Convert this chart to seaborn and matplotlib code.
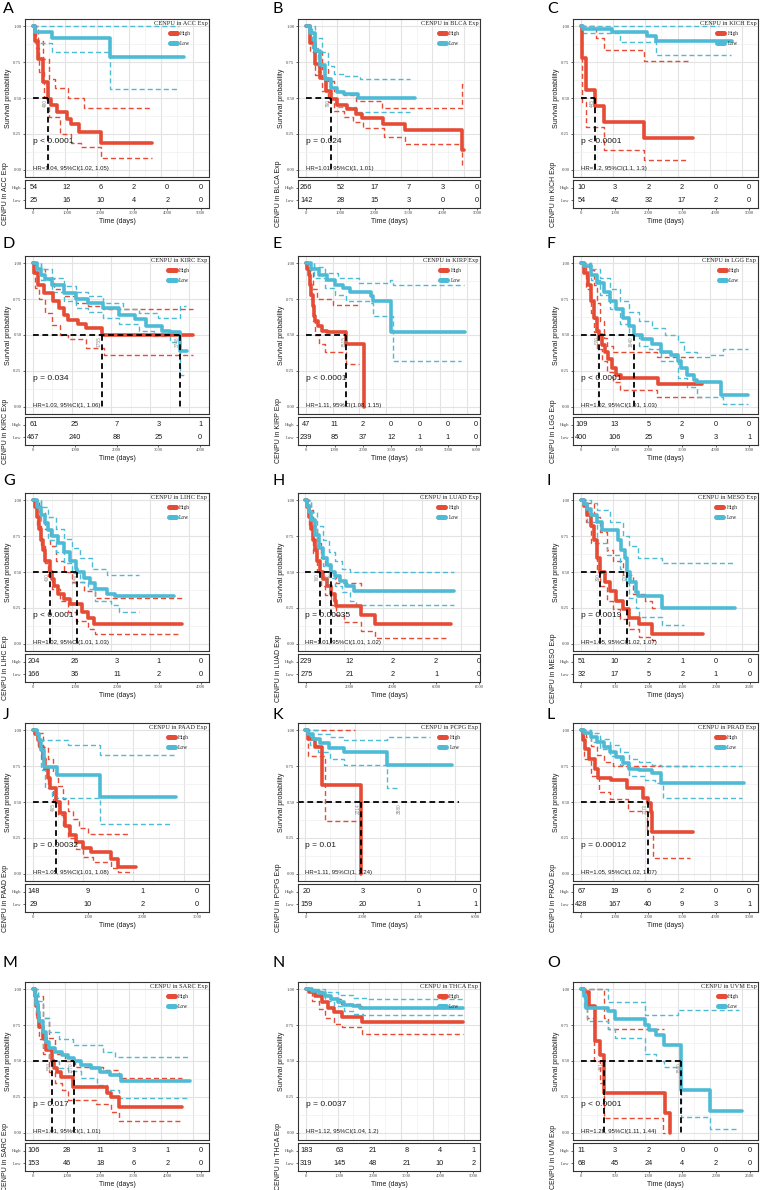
import matplotlib
matplotlib.use("Agg")
import matplotlib.pyplot as plt
from matplotlib.lines import Line2D
import seaborn as sns

# ── colours / fonts ───────────────────────────────────────────────────────────
RED  = "#E64B35"
BLUE = "#4DBBD5"
SANS  = ["Liberation Sans", "DejaVu Sans"]
SERIF = ["Liberation Serif", "DejaVu Serif"]

# ── panel info ────────────────────────────────────────────────────────────────
CANCERS = ["ACC", "BLCA", "KICH", "KIRC", "KIRP", "LGG", "LIHC", "LUAD",
           "MESO", "PAAD", "PCPG", "PRAD", "SARC", "THCA", "UVM"]
LETTERS = list("ABCDEFGHIJKLMNO")
P_TEXT = ["p < 0.0001", "p = 0.024", "p < 0.0001", "p = 0.034", "p < 0.0001",
          "p < 0.0001", "p < 0.0001", "p = 0.00035", "p = 0.0019", "p = 0.00032",
          "p = 0.01", "p = 0.00012", "p = 0.017", "p = 0.0037", "p < 0.0001"]
HR_TEXT = ["HR=1.04, 95%CI(1.02, 1.05)", "HR=1.01, 95%CI(1, 1.01)",
           "HR=1.2, 95%CI(1.1, 1.3)", "HR=1.03, 95%CI(1, 1.06)",
           "HR=1.11, 95%CI(1.08, 1.15)", "HR=1.02, 95%CI(1.01, 1.03)",
           "HR=1.02, 95%CI(1.01, 1.03)", "HR=1.01, 95%CI(1.01, 1.02)",
           "HR=1.05, 95%CI(1.02, 1.07)", "HR=1.05, 95%CI(1.01, 1.08)",
           "HR=1.11, 95%CI(1, 1.24)", "HR=1.05, 95%CI(1.02, 1.07)",
           "HR=1.01, 95%CI(1, 1.01)", "HR=1.12, 95%CI(1.04, 1.2)",
           "HR=1.28, 95%CI(1.11, 1.44)"]
X_RANGE   = [5000, 4850, 5015, 4013, 5843, 5015, 4000, 7650, 2500, 3065, 5880, 5015, 5000, 4950, 2500]
TICK_STEP = [1000, 1000, 1000, 1000, 1000, 1000, 1000, 2000, 500, 1000, 2000, 1000, 1000, 1000, 500]

# ── numbers at risk ───────────────────────────────────────────────────────────
RISK_HIGH = [[54, 12, 6, 2, 0, 0], [266, 52, 17, 7, 3, 0], [10, 3, 2, 2, 0, 0],
             [61, 25, 7, 3, 1], [47, 11, 2, 0, 0, 0, 0], [109, 13, 5, 2, 0, 0],
             [204, 26, 3, 1, 0], [229, 12, 2, 2, 0], [51, 10, 2, 1, 0, 0],
             [148, 9, 1, 0], [20, 3, 0, 0], [67, 19, 6, 2, 0, 0],
             [106, 28, 11, 3, 1, 0], [183, 63, 21, 8, 4, 1], [11, 3, 2, 0, 0, 0]]
RISK_LOW = [[25, 16, 10, 4, 2, 0], [142, 28, 15, 3, 0, 0], [54, 42, 32, 17, 2, 0],
            [467, 240, 88, 25, 0], [239, 85, 37, 12, 1, 1, 0], [400, 106, 25, 9, 3, 1],
            [166, 36, 11, 2, 0], [275, 21, 2, 1, 0], [32, 17, 5, 2, 1, 0],
            [29, 10, 2, 0], [159, 20, 1, 1], [428, 167, 40, 9, 3, 1],
            [153, 46, 18, 6, 2, 0], [319, 145, 48, 21, 10, 2], [68, 45, 24, 4, 2, 0]]

# ── median survival times (days) ──────────────────────────────────────────────
MEDIANS = [[480], [790], [445], [1755, 3748], [1515], [570, 1640], [430, 1140],
           [760, 1300], [300, 720], [465], [2214], [2070], [580, 1270], [], [361, 1560]]
EXTRA_MEDIAN_LABELS = {"PCPG": [3880]}
HLINE_FULL = ["PCPG"]

# ── Kaplan-Meier curves (time, survival) and 95% CI bounds ────────────────────
ACC_HIGH    = [(0, 1), (60, .9), (150, .77), (300, .61), (480, .49), (550, .45), (750, .40), (1050, .355), (1200, .32), (1450, .26), (2140, .19), (3730, .19)]
ACC_HIGH_UP = [(0, 1), (150, .9), (300, .77), (500, .63), (700, .57), (1100, .5), (1600, .43), (3700, .43)]
ACC_HIGH_LO = [(0, 1), (100, .85), (200, .68), (350, .51), (500, .37), (850, .25), (1200, .19), (1500, .16), (2140, .085), (3730, .085)]
ACC_LOW     = [(0, 1), (50, .96), (600, .92), (2420, .785), (4720, .785)]
ACC_LOW_UP  = [(0, 1), (4570, 1)]
ACC_LOW_LO  = [(0, 1), (50, .885), (600, .82), (2420, .565), (4570, .565)]

BLCA_HIGH    = [(0, 1), (150, .88), (300, .74), (450, .64), (640, .55), (790, .49), (990, .45), (1290, .42), (1580, .39), (1780, .36), (2430, .32), (3120, .28), (4930, .14), (5000, .14)]
BLCA_HIGH_UP = [(0, 1), (150, .95), (300, .82), (500, .7), (700, .62), (900, .55), (1200, .52), (1600, .48), (2400, .43), (4930, .6), (4980, .6)]
BLCA_HIGH_LO = [(0, 1), (150, .82), (300, .66), (500, .55), (700, .47), (900, .41), (1200, .37), (1500, .33), (1800, .29), (2480, .23), (3120, .18), (4930, .03), (4980, .03)]
BLCA_LOW     = [(0, 1), (150, .95), (300, .83), (450, .73), (600, .63), (800, .57), (1000, .54), (1200, .53), (1650, .5), (3450, .5)]
BLCA_LOW_UP  = [(0, 1), (300, .92), (500, .82), (700, .72), (900, .67), (1200, .65), (1700, .63), (3300, .63)]
BLCA_LOW_LO  = [(0, 1), (200, .85), (400, .68), (600, .55), (800, .47), (1000, .44), (1600, .40), (3300, .40)]

KICH_HIGH    = [(0, 1), (30, .78), (150, .555), (445, .446), (720, .33), (1970, .22), (3480, .22)]
KICH_HIGH_UP = [(0, 1), (460, .92), (720, .835), (1970, .755), (3400, .755)]
KICH_HIGH_LO = [(0, 1), (30, .47), (150, .30), (720, .14), (1970, .065), (3250, .065)]
KICH_LOW     = [(0, 1), (50, .98), (950, .96), (2050, .93), (2330, .895), (4700, .895)]
KICH_LOW_UP  = [(0, 1), (4300, 1)]
KICH_LOW_LO  = [(0, 1), (50, .95), (1200, .89), (2330, .80), (4650, .80)]

KIRC_HIGH    = [(0, 1), (40, .93), (120, .85), (280, .79), (515, .735), (675, .69), (790, .64), (910, .605), (1150, .575), (1350, .55), (1755, .5), (4100, .5)]
KIRC_HIGH_UP = [(0, 1), (100, .96), (300, .9), (550, .82), (800, .77), (1100, .72), (1400, .70), (1800, .68), (4100, .68)]
KIRC_HIGH_LO = [(0, 1), (60, .83), (150, .75), (300, .65), (500, .57), (700, .5), (900, .47), (1350, .41), (1820, .36), (4100, .36)]
KIRC_LOW     = [(0, 1), (100, .96), (200, .92), (300, .89), (500, .85), (800, .79), (1100, .75), (1400, .72), (1800, .69), (2200, .64), (2600, .61), (2900, .56), (3300, .53), (3500, .52), (3748, .39), (3950, .39)]
KIRC_LOW_UP  = [(0, 1), (200, .96), (500, .9), (800, .84), (1100, .8), (1400, .77), (1800, .72), (2300, .68), (2700, .65), (3200, .62), (3748, .7), (3900, .7)]
KIRC_LOW_LO  = [(0, 1), (200, .88), (500, .8), (800, .74), (1100, .69), (1400, .66), (1800, .62), (2200, .58), (2700, .53), (3100, .49), (3500, .45), (3748, .22), (3850, .22)]

KIRP_HIGH    = [(0, 1), (50, .96), (100, .92), (150, .85), (200, .78), (250, .7), (300, .63), (350, .6), (450, .56), (600, .53), (800, .52), (1515, .44), (2170, 0)]
KIRP_HIGH_UP = [(0, 1), (150, .95), (250, .82), (400, .75), (1000, .71), (2000, .71)]
KIRP_HIGH_LO = [(0, 1), (150, .75), (250, .6), (350, .5), (500, .44), (700, .38), (1515, .30), (2000, .30)]
KIRP_LOW     = [(0, 1), (200, .96), (500, .92), (800, .88), (1100, .85), (1400, .83), (1660, .80), (2430, .77), (2490, .735), (3180, .52), (5950, .52)]
KIRP_LOW_UP  = [(0, 1), (300, .97), (700, .93), (1200, .9), (2000, .86), (3150, .88), (3250, .85), (5900, .85)]
KIRP_LOW_LO  = [(0, 1), (300, .9), (700, .83), (1100, .78), (1500, .74), (2400, .72), (2500, .63), (3250, .32), (5800, .32)]

LGG_HIGH    = [(0, 1), (100, .93), (200, .85), (300, .74), (400, .62), (500, .53), (570, .5), (650, .43), (750, .38), (850, .33), (950, .27), (1100, .22), (1250, .2), (2380, .16), (3750, .16)]
LGG_HIGH_UP = [(0, 1), (250, .95), (400, .85), (500, .72), (600, .6), (700, .48), (800, .42), (1000, .38), (2370, .35), (3600, .35)]
LGG_HIGH_LO = [(0, 1), (150, .82), (300, .65), (400, .52), (500, .4), (650, .32), (800, .24), (1000, .17), (1200, .12), (2370, .07), (3750, .07)]
LGG_LOW     = [(0, 1), (100, .98), (300, .92), (500, .86), (700, .8), (900, .74), (1100, .68), (1300, .62), (1500, .56), (1640, .5), (1900, .47), (2200, .44), (2500, .38), (2800, .36), (3000, .32), (3100, .27), (3300, .22), (3500, .19), (3600, .17), (4350, .08), (5200, .08)]
LGG_LOW_UP  = [(0, 1), (300, .96), (600, .9), (900, .82), (1200, .74), (1500, .66), (1800, .6), (2200, .55), (2600, .5), (3000, .45), (3200, .38), (3600, .35), (4000, .36), (4400, .4), (5200, .4)]
LGG_LOW_LO  = [(0, 1), (300, .88), (600, .78), (900, .68), (1200, .58), (1500, .5), (1800, .42), (2100, .40), (2500, .32), (3000, .2), (3300, .14), (3600, .07), (4400, .02), (5200, .02)]

LIHC_HIGH    = [(0, 1), (50, .95), (100, .88), (150, .8), (200, .72), (250, .65), (300, .58), (430, .5), (480, .45), (550, .4), (650, .35), (800, .31), (950, .28), (1250, .22), (1400, .18), (1550, .14), (3800, .14)]
LIHC_HIGH_UP = [(0, 1), (150, .92), (300, .8), (450, .68), (600, .58), (800, .5), (1000, .43), (1300, .37), (1600, .32), (3800, .32)]
LIHC_HIGH_LO = [(0, 1), (100, .82), (200, .68), (300, .56), (400, .47), (500, .38), (700, .3), (900, .22), (1100, .16), (1400, .1), (1600, .07), (3700, .07)]
LIHC_LOW     = [(0, 1), (100, .95), (200, .9), (300, .84), (400, .79), (500, .75), (650, .7), (800, .64), (950, .58), (1100, .52), (1140, .5), (1300, .46), (1450, .42), (1600, .38), (1900, .35), (2100, .33), (3600, .33)]
LIHC_LOW_UP  = [(0, 1), (200, .95), (400, .88), (600, .8), (800, .73), (1000, .67), (1200, .6), (1500, .52), (1900, .48), (2700, .48)]
LIHC_LOW_LO  = [(0, 1), (200, .85), (400, .72), (600, .64), (800, .56), (1000, .49), (1200, .43), (1400, .38), (1600, .3), (2000, .27), (2200, .22), (2700, .22)]

LUAD_HIGH    = [(0, 1), (100, .95), (200, .88), (300, .8), (400, .72), (500, .65), (600, .58), (760, .5), (900, .45), (1100, .4), (1300, .35), (1500, .3), (1600, .26), (2850, .2), (3600, .14), (7500, .14)]
LUAD_HIGH_UP = [(0, 1), (200, .93), (400, .82), (600, .7), (800, .6), (1000, .55), (1300, .47), (1600, .42), (2850, .37), (7500, .37)]
LUAD_HIGH_LO = [(0, 1), (200, .82), (400, .63), (600, .5), (800, .4), (1000, .34), (1300, .27), (1600, .2), (2000, .15), (2850, .09), (3600, .04), (7300, .04)]
LUAD_LOW     = [(0, 1), (100, .96), (200, .92), (300, .86), (500, .76), (700, .67), (900, .6), (1100, .55), (1300, .5), (1500, .47), (1800, .44), (2100, .4), (2500, .37), (7650, .37)]
LUAD_LOW_UP  = [(0, 1), (300, .92), (600, .82), (900, .72), (1200, .64), (1500, .58), (1900, .52), (2300, .5), (7650, .5)]
LUAD_LOW_LO  = [(0, 1), (300, .8), (600, .66), (900, .54), (1200, .46), (1500, .4), (1900, .36), (2300, .3), (2600, .27), (7650, .27)]

MESO_HIGH    = [(0, 1), (50, .96), (100, .9), (150, .82), (200, .72), (250, .6), (300, .5), (380, .43), (450, .37), (550, .3), (650, .24), (750, .18), (900, .14), (1100, .07), (1900, .07)]
MESO_HIGH_UP = [(0, 1), (100, .98), (200, .88), (300, .78), (400, .65), (500, .58), (650, .48), (800, .35), (1000, .3), (1100, .25), (1200, .25)]
MESO_HIGH_LO = [(0, 1), (80, .85), (150, .7), (250, .5), (300, .4), (400, .3), (500, .24), (600, .17), (750, .1), (900, .05), (1100, .03), (1200, .03)]
MESO_LOW     = [(0, 1), (50, .97), (100, .94), (150, .9), (250, .85), (320, .79), (580, .72), (620, .65), (680, .6), (720, .5), (760, .43), (850, .36), (880, .33), (1260, .25), (2400, .25)]
MESO_LOW_UP  = [(0, 1), (150, .98), (250, .93), (450, .85), (650, .75), (750, .68), (880, .6), (1260, .56), (2380, .56)]
MESO_LOW_LO  = [(0, 1), (100, .85), (250, .7), (400, .62), (600, .52), (700, .42), (750, .32), (850, .25), (900, .19), (1260, .13), (1600, .13)]

PAAD_HIGH    = [(0, 1), (50, .97), (100, .93), (150, .88), (200, .8), (250, .74), (300, .67), (350, .6), (465, .5), (550, .42), (650, .33), (750, .27), (850, .22), (1000, .18), (1150, .15), (1550, .1), (1700, .05), (2050, .05)]
PAAD_HIGH_UP = [(0, 1), (100, .98), (200, .88), (300, .8), (400, .7), (500, .61), (600, .52), (700, .44), (800, .38), (920, .32), (1100, .28), (1900, .28)]
PAAD_HIGH_LO = [(0, 1), (100, .88), (200, .73), (300, .6), (400, .5), (500, .41), (600, .33), (700, .25), (850, .17), (1000, .12), (1200, .08), (1550, .04), (1700, .01), (2000, .01)]
PAAD_LOW     = [(0, 1), (80, .97), (130, .93), (170, .86), (230, .745), (490, .69), (1330, .535), (2840, .535)]
PAAD_LOW_UP  = [(0, 1), (100, .93), (700, .9), (1330, .83), (2800, .83)]
PAAD_LOW_LO  = [(0, 1), (100, .88), (170, .72), (250, .6), (390, .53), (1330, .345), (2750, .345)]

PCPG_HIGH    = [(0, 1), (120, .94), (400, .88), (650, .62), (2214, 0)]
PCPG_HIGH_UP = [(0, 1), (1990, 1)]
PCPG_HIGH_LO = [(0, 1), (120, .82), (780, .37), (2250, .37)]
PCPG_LOW     = [(0, 1), (100, .97), (300, .94), (600, .91), (930, .875), (1560, .845), (3270, .76), (5880, .76)]
PCPG_LOW_UP  = [(0, 1), (500, .97), (1000, .95), (1560, .935), (3270, .955), (5000, .955)]
PCPG_LOW_LO  = [(0, 1), (200, .9), (500, .85), (1000, .8), (1560, .76), (3270, .6), (3800, .6)]

PRAD_HIGH    = [(0, 1), (70, .93), (130, .87), (250, .8), (440, .73), (540, .67), (940, .65), (1430, .6), (1920, .53), (2070, .49), (2170, .43), (2220, .29), (3470, .29)]
PRAD_HIGH_UP = [(0, 1), (150, .95), (300, .89), (500, .83), (700, .78), (1000, .75), (3450, .75)]
PRAD_HIGH_LO = [(0, 1), (100, .8), (300, .68), (550, .57), (900, .52), (1450, .44), (2060, .3), (2230, .11), (3400, .11)]
PRAD_LOW     = [(0, 1), (100, .98), (300, .95), (500, .92), (700, .88), (900, .85), (1100, .81), (1300, .77), (1500, .73), (1800, .72), (2200, .7), (2485, .633), (5050, .633)]
PRAD_LOW_UP  = [(0, 1), (300, .98), (600, .94), (900, .9), (1200, .85), (1500, .8), (1800, .78), (2200, .76), (2500, .75), (5000, .75)]
PRAD_LOW_LO  = [(0, 1), (300, .92), (600, .87), (900, .82), (1200, .76), (1500, .68), (2000, .65), (2300, .63), (2550, .53), (5000, .53)]

SARC_HIGH    = [(0, 1), (50, .95), (100, .88), (150, .8), (200, .74), (300, .66), (400, .58), (580, .5), (650, .45), (750, .42), (870, .39), (1240, .32), (2320, .28), (2450, .25), (2690, .18), (4650, .18)]
SARC_HIGH_UP = [(0, 1), (100, .95), (300, .8), (500, .66), (700, .55), (1000, .5), (1300, .46), (2200, .44), (2700, .385), (4650, .385)]
SARC_HIGH_LO = [(0, 1), (100, .82), (200, .65), (300, .55), (500, .42), (700, .35), (900, .3), (1090, .23), (1960, .2), (2450, .145), (2690, .08), (4650, .08)]
SARC_LOW     = [(0, 1), (50, .96), (100, .9), (150, .84), (200, .78), (300, .7), (400, .63), (500, .59), (700, .56), (900, .54), (1100, .52), (1270, .5), (1500, .47), (1800, .45), (2100, .42), (2400, .4), (2750, .36), (4900, .36)]
SARC_LOW_UP  = [(0, 1), (150, .92), (300, .8), (500, .7), (800, .65), (1240, .61), (2180, .56), (2550, .53), (4860, .53)]
SARC_LOW_LO  = [(0, 1), (150, .75), (300, .6), (500, .5), (800, .45), (1100, .43), (1500, .38), (2000, .33), (2300, .3), (2700, .24), (4860, .24)]

THCA_HIGH    = [(0, 1), (100, .98), (300, .95), (500, .91), (700, .87), (900, .84), (1130, .807), (1760, .775), (4950, .775)]
THCA_HIGH_UP = [(0, 1), (200, .99), (500, .96), (800, .93), (1100, .9), (1760, .87), (4950, .87)]
THCA_HIGH_LO = [(0, 1), (200, .92), (400, .86), (600, .8), (900, .76), (1130, .74), (1760, .69), (4950, .69)]
THCA_LOW     = [(0, 1), (200, .99), (400, .97), (600, .95), (800, .93), (1000, .91), (1200, .89), (1500, .88), (1700, .87), (4950, .87)]
THCA_LOW_UP  = [(0, 1), (600, .98), (1000, .96), (1500, .94), (2000, .93), (4950, .93)]
THCA_LOW_LO  = [(0, 1), (300, .96), (600, .92), (900, .88), (1200, .85), (1500, .83), (1800, .82), (4950, .82)]

UVM_HIGH    = [(0, 1), (50, .98), (120, .885), (220, .64), (300, .54), (361, .28), (1310, .14), (1385, 0)]
UVM_HIGH_UP = [(0, 1), (361, .8), (420, .72), (1290, .72)]
UVM_HIGH_LO = [(0, 1), (100, .8), (200, .5), (300, .35), (361, .1), (1280, 0), (1310, 0)]
UVM_LOW     = [(0, 1), (40, .95), (75, .87), (420, .845), (520, .79), (990, .75), (1050, .715), (1160, .68), (1290, .61), (1560, .30), (2000, .15), (2500, .15)]
UVM_LOW_UP  = [(0, 1), (420, .91), (990, .82), (1510, .855), (2450, .855)]
UVM_LOW_LO  = [(0, 1), (50, .87), (100, .78), (420, .72), (520, .66), (990, .55), (1160, .5), (1290, .46), (1560, .11), (2000, .025), (2450, .025)]

CURVES = [
    (ACC_HIGH, ACC_HIGH_UP, ACC_HIGH_LO, ACC_LOW, ACC_LOW_UP, ACC_LOW_LO),
    (BLCA_HIGH, BLCA_HIGH_UP, BLCA_HIGH_LO, BLCA_LOW, BLCA_LOW_UP, BLCA_LOW_LO),
    (KICH_HIGH, KICH_HIGH_UP, KICH_HIGH_LO, KICH_LOW, KICH_LOW_UP, KICH_LOW_LO),
    (KIRC_HIGH, KIRC_HIGH_UP, KIRC_HIGH_LO, KIRC_LOW, KIRC_LOW_UP, KIRC_LOW_LO),
    (KIRP_HIGH, KIRP_HIGH_UP, KIRP_HIGH_LO, KIRP_LOW, KIRP_LOW_UP, KIRP_LOW_LO),
    (LGG_HIGH, LGG_HIGH_UP, LGG_HIGH_LO, LGG_LOW, LGG_LOW_UP, LGG_LOW_LO),
    (LIHC_HIGH, LIHC_HIGH_UP, LIHC_HIGH_LO, LIHC_LOW, LIHC_LOW_UP, LIHC_LOW_LO),
    (LUAD_HIGH, LUAD_HIGH_UP, LUAD_HIGH_LO, LUAD_LOW, LUAD_LOW_UP, LUAD_LOW_LO),
    (MESO_HIGH, MESO_HIGH_UP, MESO_HIGH_LO, MESO_LOW, MESO_LOW_UP, MESO_LOW_LO),
    (PAAD_HIGH, PAAD_HIGH_UP, PAAD_HIGH_LO, PAAD_LOW, PAAD_LOW_UP, PAAD_LOW_LO),
    (PCPG_HIGH, PCPG_HIGH_UP, PCPG_HIGH_LO, PCPG_LOW, PCPG_LOW_UP, PCPG_LOW_LO),
    (PRAD_HIGH, PRAD_HIGH_UP, PRAD_HIGH_LO, PRAD_LOW, PRAD_LOW_UP, PRAD_LOW_LO),
    (SARC_HIGH, SARC_HIGH_UP, SARC_HIGH_LO, SARC_LOW, SARC_LOW_UP, SARC_LOW_LO),
    (THCA_HIGH, THCA_HIGH_UP, THCA_HIGH_LO, THCA_LOW, THCA_LOW_UP, THCA_LOW_LO),
    (UVM_HIGH, UVM_HIGH_UP, UVM_HIGH_LO, UVM_LOW, UVM_LOW_UP, UVM_LOW_LO),
]

# ── layout (pixels) ───────────────────────────────────────────────────────────
W, H = 760, 1190
COL_X = [(25, 209), (298, 480), (573, 758)]
ROW_TOP = [19, 256, 493, 723, 982]
LETTER_X = [3, 273, 547]
LETTER_Y = [9, 244, 481, 715, 963]
MAIN_H, GAP, TAB_H = 158, 3, 28

sns.set_theme(style="white")
plt.rcParams["font.family"] = SANS
plt.rcParams["axes.linewidth"] = 0.8

fig = plt.figure(figsize=(W / 100, H / 100), dpi=100)


def add_ax(x0, x1, top, h):
    return fig.add_axes([x0 / W, 1 - (top + h) / H, (x1 - x0) / W, h / H])


def step(ax, pts, color, **kw):
    t = [p[0] for p in pts]
    s = [p[1] for p in pts]
    ax.step(t, s, where="post", color=color, **kw)


for k, name in enumerate(CANCERS):
    r, c = divmod(k, 3)
    x0, x1 = COL_X[c]
    top = ROW_TOP[r]
    R = X_RANGE[k]
    xlim = (-0.05 * R, 1.05 * R)
    ticks = [TICK_STEP[k] * i for i in range(len(RISK_HIGH[k]))]
    minor = [t + TICK_STEP[k] / 2 for t in ticks]

    # ── survival plot ──
    ax = add_ax(x0, x1, top, MAIN_H)
    ax.set_xlim(*xlim)
    ax.set_ylim(-0.05, 1.05)
    ax.set_xticks(ticks)
    ax.set_xticks(minor, minor=True)
    ax.set_yticks([0, 0.25, 0.5, 0.75, 1.0])
    ax.set_yticks([0.125, 0.375, 0.625, 0.875], minor=True)
    ax.set_yticklabels(["0.00", "0.25", "0.50", "0.75", "1.00"],
                       family=SERIF, fontsize=3.4, color="#4D4D4D")
    ax.set_xticklabels([])
    ax.tick_params(axis="both", which="major", length=1.5, width=0.5, pad=1, bottom=False, left=True)
    ax.tick_params(axis="both", which="minor", length=0)
    ax.grid(which="major", color="#E3E3E3", lw=0.8)
    ax.grid(which="minor", color="#EFEFEF", lw=0.45)
    ax.set_axisbelow(True)
    for sp in ax.spines.values():
        sp.set_color("#333333")

    hi, hi_up, hi_lo, lo, lo_up, lo_lo = CURVES[k]
    dash = dict(lw=1.0, dashes=(3.6, 2.2))
    step(ax, hi_up, RED, **dash)
    step(ax, hi_lo, RED, **dash)
    step(ax, lo_up, BLUE, **dash)
    step(ax, lo_lo, BLUE, **dash)
    step(ax, hi, RED, lw=2.6)
    step(ax, lo, BLUE, lw=2.6)

    meds = MEDIANS[k]
    if meds:
        hend = xlim[1] if name in HLINE_FULL else max(meds)
        hstart = xlim[0] if name in HLINE_FULL else 0
        ax.plot([hstart, hend], [0.5, 0.5], color="black", lw=1.3, dashes=(3.2, 2.0))
        for m in meds:
            ax.plot([m, m], [0.5, 0], color="black", lw=1.3, dashes=(3.2, 2.0))
    for m in meds + EXTRA_MEDIAN_LABELS.get(name, []):
        ax.text(m, 0.49, str(m), rotation=90, ha="right", va="top",
                fontsize=3.4, color="#8C8C8C")

    ax.text(0, 0.2, P_TEXT[k], fontsize=6, ha="left", va="center", color="#1A1A1A")
    ax.text(0, 0.01, HR_TEXT[k], fontsize=4.3, ha="left", va="center", color="#1A1A1A")

    handles = [Line2D([0], [0], color=RED, lw=3.6), Line2D([0], [0], color=BLUE, lw=3.6)]
    ax.legend(handles, ["High", "Low"], title=f"CENPU in {name} Exp", loc="upper right",
              frameon=False, prop={"family": SERIF, "size": 4},
              title_fontproperties={"family": SERIF, "size": 4.6},
              handlelength=1.3, handletextpad=0.6, labelspacing=0.9,
              borderaxespad=0.1, borderpad=0.2)

    ax.set_ylabel("Survival probability", fontsize=5, color="#1A1A1A")
    ax.yaxis.set_label_coords(-13 / (x1 - x0), 0.5)

    # ── risk table ──
    axt = add_ax(x0, x1, top + MAIN_H + GAP, TAB_H)
    axt.set_xlim(*xlim)
    axt.set_ylim(0.4, 2.6)
    for t, h_n, l_n in zip(ticks, RISK_HIGH[k], RISK_LOW[k]):
        axt.text(t, 2, str(h_n), ha="center", va="center", fontsize=5.3, color="#1A1A1A")
        axt.text(t, 1, str(l_n), ha="center", va="center", fontsize=5.3, color="#1A1A1A")
    axt.set_xticks(ticks)
    axt.set_xticklabels([str(t) for t in ticks], family=SERIF, fontsize=3.4, color="#4D4D4D")
    axt.set_yticks([2, 1])
    axt.set_yticklabels(["High", "Low"], family=SERIF, fontsize=3.4, color="#4D4D4D")
    axt.tick_params(axis="both", length=1.5, width=0.5, pad=1, bottom=True, left=True)
    axt.grid(False)
    for sp in axt.spines.values():
        sp.set_color("#333333")
    axt.set_xlabel("Time (days)", fontsize=5, labelpad=1.5, color="#1A1A1A")
    axt.set_ylabel(f"CENPU in {name} Exp", fontsize=5, color="#1A1A1A")
    axt.yaxis.set_label_coords(-16 / (x1 - x0), 0.5)

    # ── panel letter ──
    fig.text(LETTER_X[c] / W, 1 - LETTER_Y[r] / H, LETTERS[k], fontsize=11.5,
             family=["Lato", "DejaVu Sans"], ha="left", va="center", color="black")

fig.savefig("out.png", dpi=100)
